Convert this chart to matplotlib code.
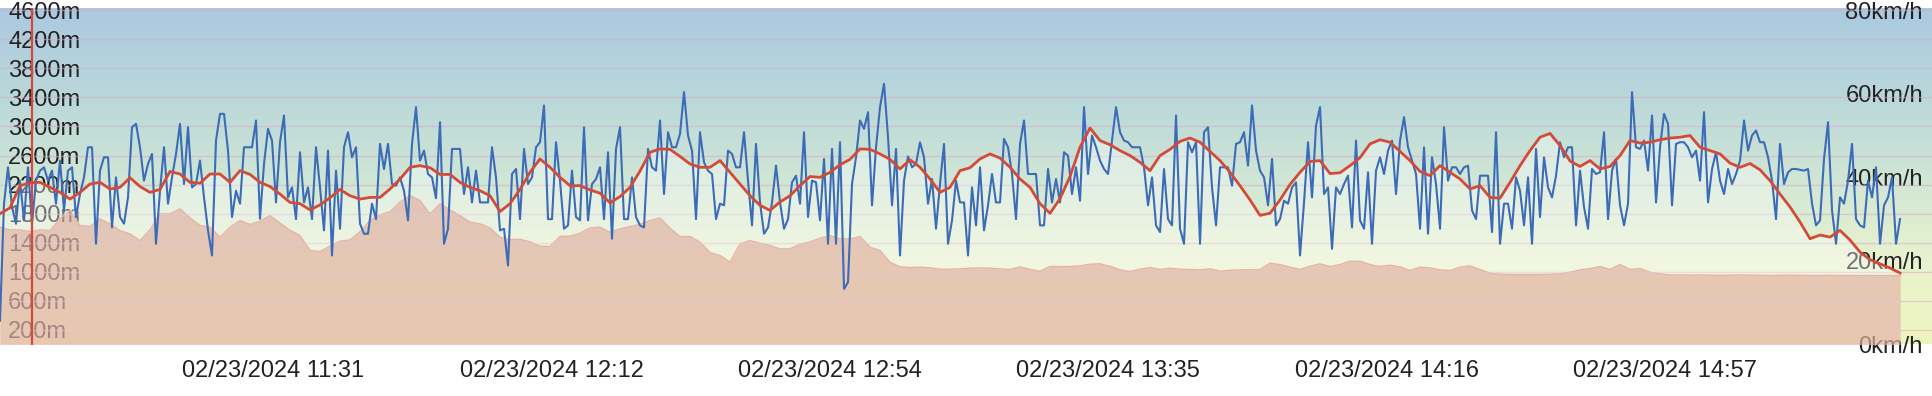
import numpy as np
import matplotlib
matplotlib.use("Agg")
import matplotlib.pyplot as plt
from matplotlib.colors import LinearSegmentedColormap
from matplotlib.transforms import blended_transform_factory as blend

# ---------------- data ----------------
START = "10:50:30"      # first sample
END = "15:31:49"        # last sample
AXIS_END = "15:36:33"   # right edge of the plot area
CURSOR = "10:55:10"     # vertical cursor line

tick_labels = ["02/23/2024 11:31", "02/23/2024 12:12", "02/23/2024 12:54",
               "02/23/2024 13:35", "02/23/2024 14:16", "02/23/2024 14:57"]
elev_ticks = [4600, 4200, 3800, 3400, 3000, 2600, 2200, 1800, 1400, 1000, 600, 200]
speed_ticks = [80, 60, 40, 20, 0]
ELEV_MAX = 4630
SPEED_MAX = 80.52

# speed (km/h), evenly sampled from START to END
speed = [
    5.7, 33.7, 42.4, 32.9, 28.9, 39.2, 29.7, 42.4, 28.9, 39.2, 41.6, 42.4, 39.2, 41.6, 33.7,
    44.0, 32.1, 41.6, 42.4, 30.5, 36.0, 40.0, 47.2, 47.2, 24.1, 41.6, 44.8, 44.8, 28.0, 40.0,
    30.5, 28.9, 35.2, 52.0, 52.8, 47.2, 39.2, 43.2, 45.6, 24.1, 36.8, 47.2, 33.7, 40.0, 45.6,
    52.8, 38.4, 52.0, 37.6, 38.4, 44.0, 35.2, 27.3, 21.3, 48.8, 55.2, 55.2, 46.4, 30.5, 36.8,
    33.7, 47.2, 47.2, 47.2, 53.6, 30.1, 43.2, 51.6, 48.8, 34.0, 48.4, 54.8, 35.2, 37.6, 30.0,
    46.0, 34.0, 37.6, 30.0, 47.2, 37.6, 27.3, 46.4, 21.3, 41.6, 27.7, 47.2, 50.8, 44.8, 47.2,
    28.9, 26.5, 26.5, 33.7, 30.0, 48.0, 42.0, 48.0, 38.4, 38.0, 40.0, 36.8, 29.7, 48.0, 56.8,
    44.0, 46.4, 40.8, 40.0, 35.0, 53.2, 24.1, 27.7, 46.8, 46.8, 46.8, 36.0, 42.4, 34.0, 41.6,
    34.0, 34.0, 34.0, 47.2, 40.0, 27.3, 27.7, 18.9, 40.8, 42.0, 30.0, 46.8, 38.4, 40.0, 47.2,
    48.4, 57.2, 30.0, 30.0, 48.4, 39.2, 27.7, 28.5, 41.6, 30.5, 29.7, 52.0, 29.7, 38.4, 39.6,
    42.4, 30.0, 46.0, 25.3, 46.8, 52.0, 30.0, 30.0, 40.0, 30.5, 28.5, 28.0, 46.8, 42.4, 41.6,
    53.6, 36.0, 50.8, 47.2, 47.2, 50.4, 60.4, 50.0, 46.4, 30.0, 50.8, 43.6, 41.6, 40.8, 30.0,
    33.7, 33.3, 46.4, 45.6, 42.4, 42.4, 50.8, 39.2, 28.5, 48.0, 34.0, 26.5, 28.0, 34.0, 42.8,
    34.0, 27.7, 30.0, 38.8, 40.4, 33.7, 50.8, 30.5, 39.2, 38.8, 29.7, 44.4, 24.1, 46.8, 24.1,
    48.4, 13.3, 14.9, 38.4, 44.8, 53.6, 51.6, 55.6, 33.3, 47.2, 56.8, 62.4, 49.6, 33.3, 46.8,
    21.3, 39.2, 45.0, 42.4, 43.2, 48.4, 44.8, 33.7, 39.6, 27.7, 38.4, 48.0, 24.1, 29.7, 39.2,
    34.0, 34.0, 21.3, 37.6, 28.5, 42.4, 27.3, 33.3, 40.8, 34.0, 34.0, 49.2, 47.2, 40.8, 30.0,
    48.0, 53.6, 40.8, 40.8, 40.8, 28.5, 28.5, 42.0, 34.0, 39.6, 34.0, 46.0, 45.2, 36.0, 42.4,
    34.4, 56.8, 40.8, 50.0, 47.2, 44.0, 42.0, 40.8, 48.8, 56.8, 50.8, 48.8, 48.4, 47.2, 47.2,
    47.2, 42.4, 33.3, 40.0, 28.5, 26.9, 42.0, 30.0, 28.5, 54.8, 27.7, 24.1, 48.4, 46.0, 48.4,
    24.1, 50.8, 52.0, 37.6, 28.5, 42.4, 42.4, 42.4, 38.0, 48.0, 48.4, 50.8, 42.8, 57.2, 46.4,
    41.6, 40.0, 33.3, 44.4, 28.5, 30.0, 34.4, 33.7, 37.6, 38.8, 21.3, 34.0, 48.4, 35.2, 52.4,
    56.8, 36.0, 37.6, 22.9, 37.6, 36.0, 38.4, 40.4, 28.0, 48.8, 29.7, 27.7, 41.2, 24.1, 41.6,
    44.8, 40.8, 46.4, 48.8, 36.0, 48.8, 54.4, 47.2, 44.0, 40.8, 27.7, 47.2, 26.5, 44.8, 38.4,
    27.7, 52.0, 39.2, 42.4, 42.4, 40.8, 42.4, 42.8, 32.1, 30.0, 40.4, 40.4, 40.4, 26.9, 50.8,
    24.1, 33.7, 33.7, 27.7, 40.0, 36.8, 28.5, 40.0, 24.1, 46.8, 30.5, 44.8, 37.6, 35.2, 40.4,
    48.4, 44.8, 47.2, 47.2, 28.5, 41.6, 32.9, 27.7, 42.0, 40.8, 41.2, 50.8, 30.0, 41.6, 44.4,
    33.3, 28.5, 33.7, 60.4, 47.2, 46.8, 48.8, 41.6, 54.8, 34.0, 47.2, 55.2, 52.8, 33.3, 48.0,
    48.4, 48.4, 47.2, 44.8, 46.4, 39.2, 55.6, 34.0, 42.0, 46.0, 39.2, 36.0, 42.0, 38.4, 40.8,
    44.0, 53.6, 46.4, 50.0, 51.2, 48.4, 48.4, 44.8, 39.2, 30.0, 48.0, 38.4, 41.2, 42.0, 42.0,
    41.8, 41.6, 42.0, 33.7, 28.5, 29.7, 44.4, 53.2, 32.1, 24.1, 35.2, 33.7, 39.2, 48.0, 30.0,
    28.5, 28.0, 39.2, 35.2, 42.4, 24.1, 33.3, 35.2, 40.0, 24.1, 30.0,
]

# smoothed speed (km/h), evenly sampled from START to END
avg_speed = [
    31.3, 32.7, 38.0, 38.7, 38.8, 37.6, 36.4, 34.8, 36.4, 38.4, 38.8, 37.2, 37.6, 39.9, 37.8,
    36.4, 37.1, 41.4, 40.8, 38.8, 38.6, 40.8, 40.8, 38.8,
    41.6, 40.7, 38.8, 37.8, 36.0, 34.0, 33.7, 32.2, 33.4, 35.1, 37.1, 35.6, 34.8, 35.2, 35.2,
    37.2, 39.6, 42.4, 42.8, 42.3, 40.7, 40.7, 38.8, 37.6,
    36.8, 35.6, 31.8, 33.7, 37.1, 41.2, 44.4, 42.4, 40.0, 38.0, 38.0, 37.0, 36.2, 33.9, 35.4,
    37.6, 41.5, 46.0, 46.8, 46.7, 45.0, 43.2, 42.4, 42.4,
    44.0, 41.2, 38.4, 35.6, 33.3, 32.1, 34.1, 35.6, 38.0, 40.2, 40.0, 41.2, 43.0, 44.3, 46.8,
    46.7, 45.6, 44.3, 42.0, 44.2, 42.4, 39.6, 36.4, 37.6,
    41.6, 42.3, 44.4, 45.6, 44.6, 42.4, 39.6, 37.6, 33.7, 31.4, 34.9, 40.2, 47.2, 51.8, 48.8,
    47.8, 46.4, 45.2, 43.6, 41.6, 45.2, 46.7, 48.6, 49.4,
    48.4, 46.2, 44.0, 41.2, 38.0, 34.6, 30.9, 31.4, 34.6, 38.3, 41.2, 43.8, 44.0, 40.9, 41.1,
    42.8, 44.7, 48.0, 49.0, 48.4, 46.2, 44.0, 41.4, 40.4,
    42.8, 41.2, 39.6, 37.2, 38.0, 35.2, 35.0, 38.8, 42.8, 46.4, 49.6, 50.5, 47.6, 43.9, 42.6,
    44.0, 42.0, 42.6, 45.2, 48.8, 48.2, 48.4, 49.0, 49.4,
    49.6, 50.0, 47.2, 46.4, 45.6, 43.4, 42.4, 43.3, 41.8, 39.2, 36.0, 32.9, 29.3, 25.3, 26.2,
    25.7, 27.3, 25.0, 22.1, 20.3, 19.3, 18.3, 17.1,
]

# elevation (m), evenly sampled from START to END
elevation = [
    1614, 1577, 1577, 1554, 1577, 1568, 1729, 1843, 1637, 1623, 1729, 1660, 1568, 1522, 1430,
    1577, 1797, 1797, 1866, 1742, 1637, 1614, 1476, 1614,
    1706, 1651, 1697, 1774, 1669, 1573, 1499, 1293, 1279, 1353, 1421, 1440, 1550, 1706, 1784,
    1829, 1958, 2049, 1981, 1797, 1935, 1852, 1774, 1683,
    1660, 1605, 1476, 1444, 1449, 1412, 1353, 1348, 1486, 1490, 1531, 1605, 1614, 1545, 1591,
    1623, 1655, 1706, 1742, 1600, 1486, 1486, 1408, 1265,
    1224, 1132, 1385, 1431, 1394, 1362, 1316, 1316, 1380, 1412, 1463, 1499, 1453, 1453, 1486,
    1339, 1293, 1132, 1068, 1059, 1064, 1055, 1036, 1036,
    1041, 1050, 1055, 1050, 1041, 1032, 1068, 1032, 1009, 1073, 1073, 1073, 1082, 1105, 1110,
    1077, 1027, 1004, 1036, 1059, 1032, 1050, 1036, 1032,
    1027, 1041, 1009, 1022, 1027, 1027, 1032, 1119, 1100, 1064, 1032, 1077, 1110, 1073, 1100,
    1146, 1146, 1100, 1073, 1091, 1068, 1018, 1064, 1055,
    1027, 1018, 1064, 1082, 1032, 981, 967, 963, 963, 963, 963, 967, 972, 995, 1027,
    1045, 1073, 1032, 1100, 1032, 1045, 995, 972, 958,
    958, 955, 958, 955, 952, 955, 958, 955, 952, 950, 952, 955, 952, 950, 950,
    952, 950, 950, 948, 950, 948, 950, 948,
]


def mins(s):
    parts = [int(p) for p in s.split(":")]
    while len(parts) < 3:
        parts.append(0)
    return parts[0] * 60 + parts[1] + parts[2] / 60.0


t0, t1 = mins(START), mins(END)
t_speed = np.linspace(t0, t1, len(speed))
t_avg = np.linspace(t0, t1, len(avg_speed))
t_elev = np.linspace(t0, t1, len(elevation))
tick_times = [mins(l.split()[1]) for l in tick_labels]
tick_pos = np.linspace(tick_times[0], tick_times[-1], len(tick_labels))

# ---------------- figure ----------------
plt.rcParams['font.family'] = ['Liberation Sans', 'DejaVu Sans']
fig = plt.figure(figsize=(19.32, 3.96), dpi=100)
fig.patch.set_facecolor('white')
ax = fig.add_axes([0, 51.5 / 396, 1, 336.5 / 396])
ax2 = ax.twinx()
xmin, xmax = t0, mins(AXIS_END)

bg_cmap = LinearSegmentedColormap.from_list(
    "bg", [(0.0, "#eff5c0"), (0.25, "#e9f2cf"), (0.49, "#d0e6d5"),
           (0.73, "#bad8da"), (1.0, "#abc9e0")])
grad = np.linspace(0, 1, 256).reshape(-1, 1)
ax.imshow(grad, extent=[xmin, xmax, 0, ELEV_MAX], origin='lower', aspect='auto',
          cmap=bg_cmap, zorder=0, interpolation='bicubic')

text_col = '#222222'
tr_left = blend(ax.transAxes, ax.transData)
for v in elev_ticks:
    ax.text(0.0042, v, f"{v}m", transform=tr_left, ha='left', va='center_baseline',
            fontsize=17, color=text_col, zorder=1, clip_on=False)
tr_right = blend(ax.transAxes, ax2.transData)
for v in speed_ticks:
    ax.text(0.9953, v, f"{v}km/h", transform=tr_right, ha='right', va='center_baseline',
            fontsize=17, color=text_col, zorder=1, clip_on=False)
tr_x = blend(ax.transData, ax.transAxes)
for p, lab in zip(tick_pos, tick_labels):
    ax.text(p, -0.0728, lab, transform=tr_x, ha='center', va='center_baseline',
            fontsize=17, color=text_col, clip_on=False)

# elevation area
ax.fill_between(t_elev, elevation, 0, color='#c8604a', alpha=0.5, lw=0, zorder=2)
ax.plot(t_elev, elevation, color='#d98b74', lw=1.0, zorder=2.2)
for v in elev_ticks:
    ax.axhline(v, color='#d7aac8', alpha=0.55, lw=1.0, zorder=2.5)

# speed series
ax2.fill_between(t_avg, avg_speed, 0, color='white', alpha=0.36, lw=0, zorder=1)
ax2.plot(t_speed, speed, color='#3c6cb8', lw=1.5, zorder=3)
ax2.plot(t_avg, avg_speed, color='#d24b38', lw=2.0, zorder=4)
ax2.axvline(mins(CURSOR), color='#d9473b', lw=1.6, zorder=5)

ax.set_xlim(xmin, xmax)
ax.set_ylim(0, ELEV_MAX)
ax2.set_ylim(0, SPEED_MAX)
ax.set_axis_off()
ax2.set_axis_off()

fig.savefig("out.png", dpi=100, facecolor='white')
